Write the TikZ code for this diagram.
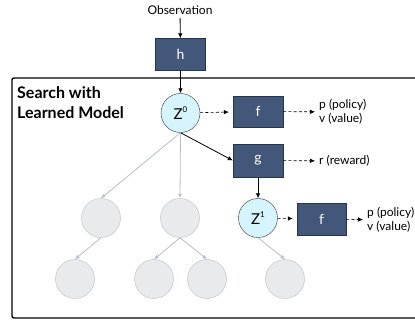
\documentclass[tikz,border=0pt]{standalone}
\usepackage{fontspec}
\setmainfont{Lato}
\usetikzlibrary{arrows.meta,positioning}
\definecolor{boxblue}{HTML}{42577A}
\definecolor{boxedge}{HTML}{26344D}
\definecolor{zcyan}{HTML}{D5F4FB}
\definecolor{ghostfill}{HTML}{E8EAEC}
\definecolor{ghostedge}{HTML}{B7BEC7}
\newcommand{\zsup}[1]{Z\raisebox{0.42em}{\fontsize{8}{8}\selectfont #1}}
\begin{document}
\begin{tikzpicture}[x=1pt,y=-1pt,
    net/.style={draw=boxedge,fill=boxblue,text=white,minimum width=50pt,minimum height=32pt,inner sep=0pt,font=\fontsize{14}{16}\selectfont},
    latent/.style={circle,draw=black!80,fill=zcyan,minimum size=39pt,inner sep=0pt,font=\fontsize{15}{17}\selectfont},
    ghost/.style={circle,draw=ghostedge,fill=ghostfill,minimum size=39pt,inner sep=0pt},
    outtext/.style={anchor=west,align=left,inner sep=0pt,font=\fontsize{12}{14}\selectfont},
    solid arrow/.style={-{Latex[length=5pt,width=4.5pt]},thick},
    ghost arrow/.style={-{Latex[length=4.5pt,width=4pt]},draw=ghostedge,thick},
    dash arrow/.style={-{Latex[length=5pt,width=4.5pt]},semithick,dash pattern=on 3pt off 2.2pt,shorten >=4pt}]
    \useasboundingbox (0,0) rectangle (415,320);
    \draw[line width=1.4pt,rounded corners=2pt] (12,78) rectangle (425,318);
    \node[align=left,font=\bfseries\fontsize{16}{20}\selectfont,anchor=north west,inner sep=0pt] (title) at (17,86) {Search with\\Learned Model};

    % representation
    \node[font=\fontsize{12}{14}\selectfont] (obs) at (180,10) {Observation};
    \node[net] (h) at (180.5,54.5) {h};
    \node[latent] (z0) at (180.5,113) {\zsup{0}};
    \draw[solid arrow] (obs) -- (h);
    \draw[solid arrow] (h) -- (z0);

    % prediction and dynamics
    \node[net,minimum height=31pt] (f0) at (258,111.5) {f};
    \node[net,minimum height=33pt] (g) at (258,160.5) {g};
    \node[latent] (z1) at (258,218) {\zsup{1}};
    \node[net,minimum width=49pt] (f1) at (321.5,219) {f};
    \node[outtext] (pv0) at (319,112) {p (policy)\\v (value)};
    \node[outtext] (rw) at (319,161) {r (reward)};
    \node[outtext] (pv1) at (367,220) {p (policy)\\v (value)};
    \draw[dash arrow] (z0) -- (f0);
    \draw[dash arrow] (f0) -- (pv0);
    \draw[dash arrow] (g) -- (rw);
    \draw[dash arrow] (z1) -- (f1);
    \draw[dash arrow] (f1) -- (pv1);
    \draw[solid arrow] (z0.south) -- (g.west);
    \draw[solid arrow] (g) -- (z1);

    % rest of the tree
    \node[ghost] (a) at (101,218) {};
    \node[ghost] (b) at (180,218) {};
    \node[ghost] (aa) at (75,279) {};
    \node[ghost] (ba) at (154,279) {};
    \node[ghost] (bb) at (207,279) {};
    \node[ghost] (ca) at (285,279) {};
    \draw[ghost arrow] (z0.south) -- (a.north);
    \draw[ghost arrow] (z0.south) -- (b.north);
    \draw[ghost arrow] (a.south) -- (aa.north);
    \draw[ghost arrow] (b.south) -- (ba.north);
    \draw[ghost arrow] (b.south) -- (bb.north);
    \draw[ghost arrow] (z1.south) -- (ca.north);
\end{tikzpicture}
\end{document}
